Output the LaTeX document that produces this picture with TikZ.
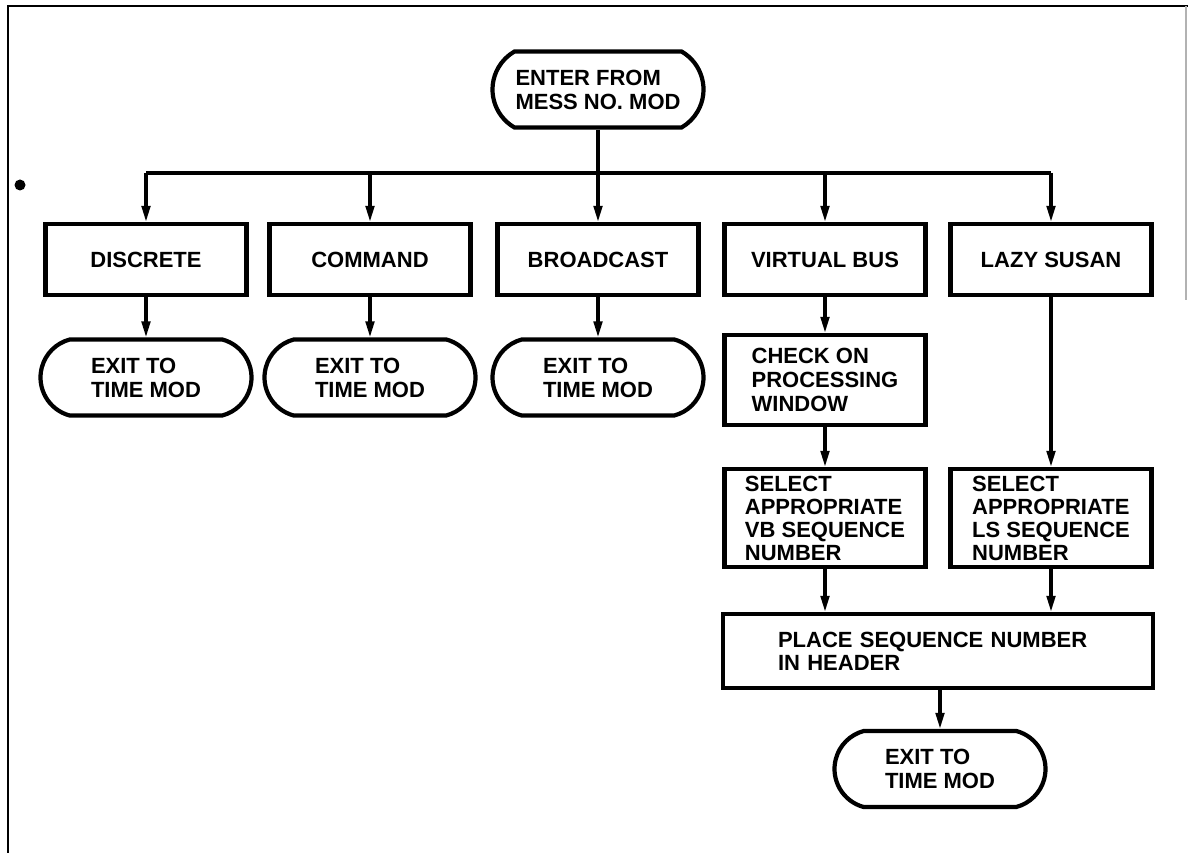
\documentclass[tikz,border=0pt]{standalone}
\usepackage{fontspec}
\setmainfont{Liberation Sans}
\usetikzlibrary{arrows.meta,shapes.misc}
\begin{document}
\begin{tikzpicture}[x=1pt,y=-1pt,
  every node/.style={font=\fontsize{22}{24}\selectfont\bfseries},
  proc/.style={draw, line width=4.2pt, rectangle, minimum width=201pt, minimum height=71pt, align=left, inner sep=0pt},
  term/.style={draw, line width=4.2pt, rounded rectangle, rounded rectangle arc length=150, minimum width=211pt, minimum height=76pt, align=left, inner sep=0pt},
  conn/.style={line width=3.2pt},
  arr/.style={conn, -{Triangle[length=16pt,width=8.5pt]}},
  frameline/.style={line width=2.2pt}
]
\useasboundingbox (0,0) rectangle (1188,853);
% frame
\draw[frameline] (8,853) -- (8,6) -- (1188,6);
\draw[line width=1.5pt, black!30] (1186,6) -- (1186,300);
\fill (20,185) circle[radius=5.5pt];

% nodes
\node[term, rounded rectangle arc length=120] (start) at (598,89.5) {ENTER FROM\\MESS NO. MOD};
\node[proc] (disc) at (146,259.5) {DISCRETE};
\node[proc] (cmd) at (370,259.5) {COMMAND};
\node[proc] (brd) at (598,259.5) {BROADCAST};
\node[proc] (vb) at (825,259.5) {VIRTUAL BUS};
\node[proc] (ls) at (1051,259.5) {LAZY SUSAN};
\node[term] (ex1) at (146,377.5) {EXIT TO\\TIME MOD};
\node[term] (ex2) at (370,377.5) {EXIT TO\\TIME MOD};
\node[term] (ex3) at (598,377.5) {EXIT TO\\TIME MOD};
\node[proc, minimum height=90pt] (chk) at (825,380) {CHECK ON\\PROCESSING\\WINDOW};
\node[proc, minimum height=98pt, font=\fontsize{22}{23}\selectfont\bfseries] (svb) at (825,518) {SELECT\\APPROPRIATE\\VB SEQUENCE\\NUMBER};
\node[proc, minimum height=98pt, font=\fontsize{22}{23}\selectfont\bfseries] (sls) at (1051,518) {SELECT\\APPROPRIATE\\LS SEQUENCE\\NUMBER};
\node[proc, minimum width=430pt, minimum height=74pt, text width=320pt, font=\fontsize{22}{23}\selectfont\bfseries] (place) at (938,651) {PLACE SEQUENCE NUMBER\\IN HEADER};
\node[term] (exf) at (940,769) {EXIT TO\\TIME MOD};

% connectors
\coordinate (bus) at (598,173);
\draw[conn] (start.south) -- (bus);
\draw[conn] (disc.north |- bus) -- (ls.north |- bus);
\foreach \n in {disc,cmd,brd,vb,ls}{
  \draw[arr] (\n.north |- bus) -- (\n.north);
}
\draw[arr] (disc.south) -- (ex1.north);
\draw[arr] (cmd.south) -- (ex2.north);
\draw[arr] (brd.south) -- (ex3.north);
\draw[arr] (vb.south) -- (chk.north);
\draw[arr] (chk.south) -- (svb.north);
\draw[arr] (ls.south) -- (sls.north);
\draw[arr] (svb.south) -- (svb.south |- place.north);
\draw[arr] (sls.south) -- (sls.south |- place.north);
\draw[arr] (exf.north |- place.south) -- (exf.north);
\end{tikzpicture}
\end{document}
